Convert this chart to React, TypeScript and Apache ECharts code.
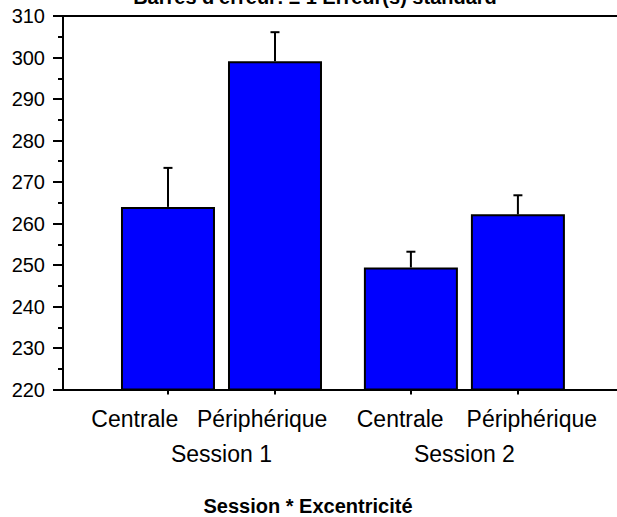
import React, { useEffect, useRef } from "react";
import * as echarts from "echarts";

// ---- data ----
const sessions = ["Session 1", "Session 2"];
const excentricities = ["Centrale", "Périphérique"];
// order: Session 1 Centrale, Session 1 Périphérique, Session 2 Centrale, Session 2 Périphérique
const means = [264.0, 299.1, 249.4, 262.2];
const stdErrors = [9.4, 7.0, 3.8, 4.6];
const yMin = 220;
const yMax = 310;
const yStep = 10;
const titleText = "Barres d'erreur: ± 1 Erreur(s) standard";
const axisTitle = "Session * Excentricité";

// ---- layout helpers ----
const SESSION_GAP = 0.27;
const LABEL_SHIFT = [-0.31, -0.12, -0.1, 0.13];
const positions = means.map((_, i) => i + Math.floor(i / excentricities.length) * SESSION_GAP);
const labelPositions = positions.map((p, i) => p + LABEL_SHIFT[i]);
const barLabels = means.map((_, i) => excentricities[i % excentricities.length]);
const groupCenters = sessions.map((_, s) => {
  const idx = s * excentricities.length;
  return (positions[idx] + positions[idx + excentricities.length - 1]) / 2;
});
const X_MIN = -0.981;
const X_MAX = 4.196;
const FONT = '"Liberation Sans", Arial, Helvetica, sans-serif';

const findIndex = (arr: number[], v: number) => arr.findIndex((p) => Math.abs(p - v) < 1e-6);

export default function App() {
  const ref = useRef<HTMLDivElement | null>(null);

  useEffect(() => {
    if (!ref.current) return;
    const chart = echarts.init(ref.current, null, { renderer: "svg" });
    const option: any = {
      animation: false,
      backgroundColor: "#fff",
      textStyle: { fontFamily: FONT, color: "#000" },
      title: [
        {
          text: titleText,
          left: 315,
          top: -3,
          padding: 0,
          textAlign: "center",
          textVerticalAlign: "middle",
          textStyle: { fontSize: 20, fontWeight: "bold", color: "#000", fontFamily: FONT },
        },
        {
          text: axisTitle,
          left: 308,
          top: 506,
          padding: 0,
          textAlign: "center",
          textVerticalAlign: "middle",
          textStyle: { fontSize: 20, fontWeight: "bold", color: "#000", fontFamily: FONT },
        },
      ],
      grid: { left: 63, right: 0, top: 16, bottom: 127.5, containLabel: false },
      xAxis: [
        {
          type: "value",
          min: X_MIN,
          max: X_MAX,
          position: "bottom",
          axisLine: { show: true, onZero: false, lineStyle: { color: "#000", width: 2 } },
          axisTick: {
            show: true,
            customValues: positions,
            length: 5,
            lineStyle: { color: "#000", width: 2 },
          },
          axisLabel: {
            customValues: labelPositions,
            showMinLabel: true,
            showMaxLabel: true,
            hideOverlap: false,
            margin: 18,
            fontSize: 23,
            color: "#000",
            fontFamily: FONT,
            formatter: (v: number) => {
              const i = findIndex(labelPositions, v);
              return i >= 0 ? barLabels[i] : "";
            },
          },
          splitLine: { show: false },
        },
        {
          type: "value",
          min: X_MIN,
          max: X_MAX,
          position: "bottom",
          axisLine: { show: false, onZero: false },
          axisTick: { show: false },
          axisLabel: {
            customValues: groupCenters,
            showMinLabel: true,
            showMaxLabel: true,
            margin: 53,
            fontSize: 23,
            color: "#000",
            fontFamily: FONT,
            formatter: (v: number) => {
              const i = findIndex(groupCenters, v);
              return i >= 0 ? sessions[i] : "";
            },
          },
          splitLine: { show: false },
        },
        {
          type: "value",
          min: X_MIN,
          max: X_MAX,
          position: "top",
          axisLine: { show: true, onZero: false, lineStyle: { color: "#000", width: 2 } },
          axisTick: { show: false },
          axisLabel: { show: false },
          splitLine: { show: false },
        },
      ],
      yAxis: {
        type: "value",
        min: yMin,
        max: yMax,
        interval: yStep,
        position: "left",
        axisLine: { show: true, onZero: false, lineStyle: { color: "#000", width: 2 } },
        axisTick: { show: true, length: 10, lineStyle: { color: "#000", width: 2 } },
        minorTick: { show: true, splitNumber: 2, length: 5, lineStyle: { color: "#000", width: 2 } },
        axisLabel: { margin: 18, fontSize: 20, color: "#000", fontFamily: FONT },
        splitLine: { show: false },
      },
      series: [
        {
          type: "bar",
          xAxisIndex: 0,
          yAxisIndex: 0,
          barWidth: 94,
          data: positions.map((x, i) => [x, means[i]]),
          itemStyle: { color: "#0000ff", borderColor: "#000", borderWidth: 2 },
          z: 2,
        },
        {
          type: "custom",
          xAxisIndex: 0,
          yAxisIndex: 0,
          z: 3,
          data: positions.map((x, i) => [x, means[i], stdErrors[i]]),
          renderItem: (params: any, api: any) => {
            const x = api.value(0);
            const m = api.value(1);
            const se = api.value(2);
            const p0 = api.coord([x, m]);
            const p1 = api.coord([x, m + se]);
            const half = 4.5;
            const style = { stroke: "#000", lineWidth: 2 };
            return {
              type: "group",
              children: [
                { type: "line", shape: { x1: p0[0], y1: p0[1], x2: p1[0], y2: p1[1] }, style },
                { type: "line", shape: { x1: p1[0] - half, y1: p1[1], x2: p1[0] + half, y2: p1[1] }, style },
              ],
            };
          },
        },
      ],
    };
    chart.setOption(option);
    return () => chart.dispose();
  }, []);

  return (
    <div
      ref={ref}
      style={{ position: "absolute", left: 0, top: 0, width: 617, height: 517, background: "#fff" }}
    />
  );
}
